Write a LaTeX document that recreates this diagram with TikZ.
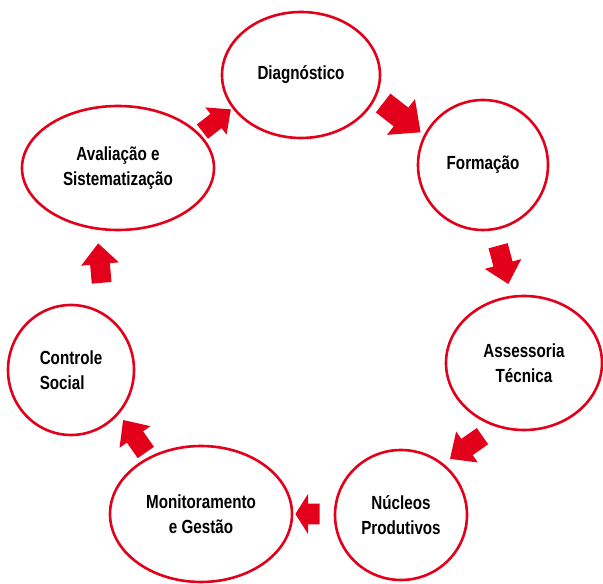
\documentclass[tikz,border=0pt]{standalone}
\usepackage{fontspec}
\setsansfont{Liberation Sans}[FakeStretch=0.8]
\usetikzlibrary{shapes.geometric}
\definecolor{cyclered}{HTML}{E2001A}
\tikzset{
  x=1pt, y=1pt,
  stage/.style={ellipse, draw=cyclered, line width=2.6pt, fill=white, inner sep=0pt,
    align=center, font=\sffamily\bfseries\fontsize{19}{25}\selectfont, text=black},
  blockarrow/.pic={
    \fill[cyclered] (-21,-11) -- (0,-11) -- (0,-21) -- (23,0) -- (0,21) -- (0,11) -- (-21,11) -- cycle;
  }
}
\begin{document}
\begin{tikzpicture}
\useasboundingbox (0,0) rectangle (603,584);

% stages of the cycle
\node[stage, minimum width=158, minimum height=126] (diag) at (301,509) {Diagnóstico};
\node[stage, minimum width=130, minimum height=130] (form) at (483,419) {Formação};
\node[stage, minimum width=156, minimum height=134] (asse) at (524,221) {Assessoria\\Técnica};
\node[stage, minimum width=132, minimum height=130] (nucl) at (401,69) {Núcleos\\Produtivos};
\node[stage, minimum width=182, minimum height=136] (moni) at (201,70) {Monitoramento\\e Gestão};
\node[stage, minimum width=126, minimum height=130, align=left] (ctrl) at (71,214) {Controle\\Social};
\node[stage, minimum width=192, minimum height=124] (aval) at (118,416) {Avaliação e\\Sistematização};

% block arrows between the stages
\pic[rotate=-38, scale=1.08] at (401,467) {blockarrow};
\pic[rotate=-75, scale=0.9] at (503,320) {blockarrow};
\pic[rotate=215, scale=0.9] at (467,137) {blockarrow};
\pic[rotate=180, xscale=0.55, yscale=0.95] at (308,70) {blockarrow};
\pic[rotate=125, scale=0.9] at (135,147) {blockarrow};
\pic[rotate=95, scale=0.9] at (100,320) {blockarrow};
\pic[rotate=38, scale=0.82] at (216,463) {blockarrow};
\end{tikzpicture}
\end{document}
